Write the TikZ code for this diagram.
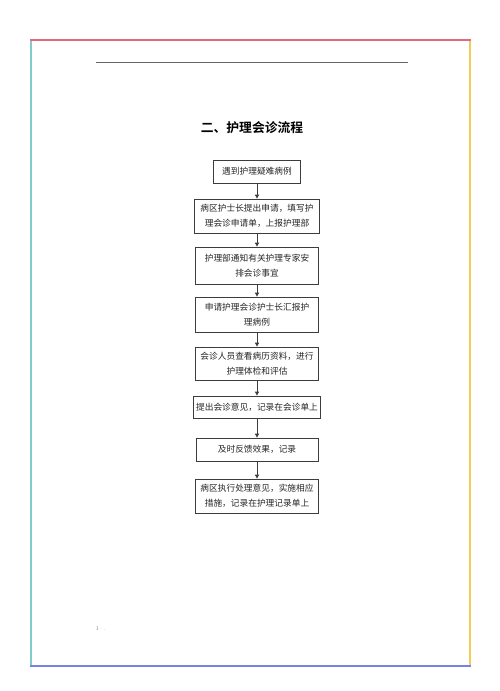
\documentclass[tikz,border=0pt]{standalone}
\usepackage{fontspec}
\newfontfamily\cjk{Noto Sans CJK SC}[BoldFont={* Bold}]
\usetikzlibrary{arrows.meta}
\definecolor{framered}{RGB}{228,104,122}
\definecolor{frameteal}{RGB}{128,204,200}
\definecolor{frameyellow}{RGB}{242,204,90}
\definecolor{frameblue}{RGB}{118,130,228}
\definecolor{boxline}{RGB}{60,60,60}
\tikzset{
  flowbox/.style={draw=boxline, line width=0.8pt, align=center, inner sep=0pt,
    font=\cjk\fontsize{8.7}{14.5}\selectfont, text=black!85},
  flowarrow/.style={draw=boxline, line width=0.8pt, -{Triangle[length=4pt,width=4pt]}},
  framepen/.style={line width=2pt},
}
\begin{document}
\begin{tikzpicture}[x=1pt,y=-1pt]
\useasboundingbox (0,0) rectangle (500,691);
\fill[white] (0,0) rectangle (500,691);
% frame
\draw[framepen, frameteal] (31,39) -- (31,666);
\draw[framepen, frameyellow] (470,39) -- (470,666);
\draw[framepen, framered] (30,39.5) -- (471,39.5);
\draw[framepen, frameblue] (30,665.5) -- (471,665.5);
% header rule
\draw[gray!80!black, line width=0.8pt] (96,62) -- (408,62);
% title
\node[font=\cjk\bfseries\fontsize{12.8}{14}\selectfont] (title) at (252,128) {二、护理会诊流程};
% boxes
\node[flowbox, minimum width=87pt, minimum height=23pt] (b1) at (257,171.5) {遇到护理疑难病例};
\node[flowbox, minimum width=125pt, minimum height=34pt] (b2) at (257,216) {病区护士长提出申请，填写护\\理会诊申请单，上报护理部};
\node[flowbox, minimum width=123pt, minimum height=37pt] (b3) at (257,265.5) {护理部通知有关护理专家安\\排会诊事宜};
\node[flowbox, minimum width=123pt, minimum height=35pt] (b4) at (257,314.5) {申请护理会诊护士长汇报护\\理病例};
\node[flowbox, minimum width=123pt, minimum height=33pt] (b5) at (257,363.5) {会诊人员查看病历资料，进行\\护理体检和评估};
\node[flowbox, minimum width=127pt, minimum height=22pt] (b6) at (257,407) {提出会诊意见，记录在会诊单上};
\node[flowbox, minimum width=122pt, minimum height=23pt] (b7) at (257,449.5) {及时反馈效果，记录};
\node[flowbox, minimum width=123pt, minimum height=34pt] (b8) at (257,496) {病区执行处理意见，实施相应\\措施，记录在护理记录单上};
% arrows
\foreach \a/\b in {b1/b2,b2/b3,b3/b4,b4/b5,b5/b6,b6/b7,b7/b8}
  \draw[flowarrow] (\a.south) -- (\b.north);
% footer mark
\node[font=\fontsize{5}{5}\selectfont, text=gray, anchor=west, inner sep=0pt] (foot) at (96,629) {I·.};
\end{tikzpicture}
\end{document}
